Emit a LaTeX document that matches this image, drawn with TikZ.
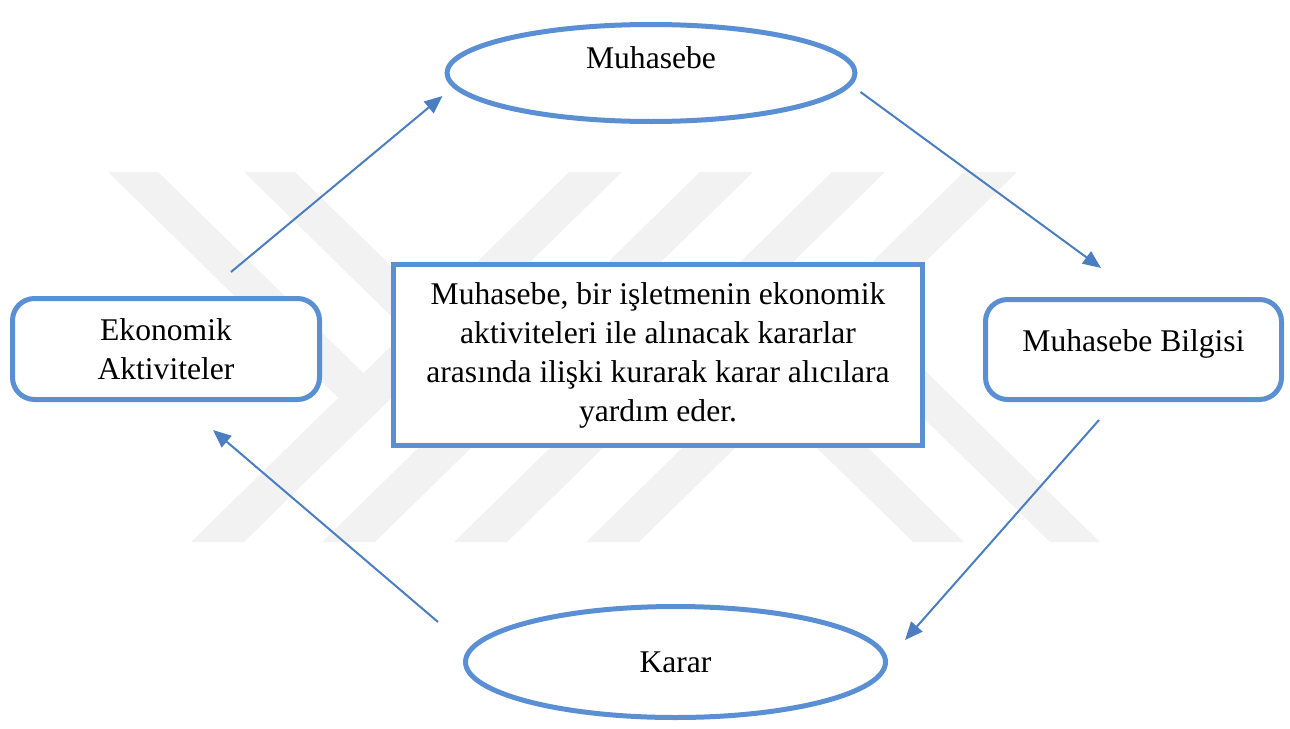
\documentclass[tikz,border=0pt]{standalone}
\usepackage{fontspec}
\setmainfont{Liberation Serif}
\usetikzlibrary{arrows.meta, shapes, positioning, calc}
\definecolor{boxblue}{HTML}{5A8FD4}
\definecolor{arrowblue}{HTML}{4A7EC1}

\begin{document}
\begin{tikzpicture}[x=0.5pt,y=-0.5pt,font=\fontsize{15.8}{19.5}\selectfont,>={Triangle[length=9pt,width=7.5pt]},line width=2.5pt]

	\tikzset{wm/.style={fill=black!5, draw=none},
		oval st/.style={ellipse, draw=boxblue, fill=white, inner sep=0pt},
		box st/.style={rectangle, rounded corners=11pt, draw=boxblue, fill=white, align=center, inner sep=0pt},
		note st/.style={rectangle, draw=boxblue, fill=white, align=center, inner sep=0pt},
		arr/.style={->, draw=arrowblue, fill=arrowblue, line width=1pt}}

	\useasboundingbox (0,0) rectangle (1290,728);

	% faint watermark in the back
	\fill[wm] (569,172) -- (622,172) -- (244,542) -- (191,542) -- cycle;
	\fill[wm] (700,172) -- (753,172) -- (375,542) -- (322,542) -- cycle;
	\fill[wm] (832,172) -- (885,172) -- (507,542) -- (454,542) -- cycle;
	\fill[wm] (964,172) -- (1017,172) -- (639,542) -- (586,542) -- cycle;
	\fill[wm] (108,172) -- (158,172) -- (390,399) -- (365,424) -- cycle;
	\fill[wm] (244,172) -- (295,172) -- (524,396) -- (498,421) -- cycle;
	\fill[wm] (1100,542) -- (1050,542) -- (818,315) -- (843,290) -- cycle;
	\fill[wm] (964,542) -- (913,542) -- (684,318) -- (710,293) -- cycle;

	\node[oval st, minimum width=204pt, minimum height=48.5pt] (M) at (651,73) {\raisebox{2.5pt}[0pt][0pt]{Muhasebe}};
	\node[box st, minimum width=148pt, minimum height=50pt] (B) at (1133.5,349.5) {\raisebox{-1pt}[0pt][0pt]{Muhasebe Bilgisi}};
	\node[oval st, minimum width=210pt, minimum height=55.5pt] (K) at (675.5,662) {Karar};
	\node[box st, minimum width=153.5pt, minimum height=50.5pt] (E) at (166,349) {Ekonomik\\Aktiviteler};
	\node[note st, minimum width=264.5pt, minimum height=90.5pt] (C) at (658,355)
		{Muhasebe, bir işletmenin ekonomik\\aktiviteleri ile alınacak kararlar\\arasında ilişki kurarak karar alıcılara\\yardım eder.};

	\path
	($(E.north)+(65,-24)$) edge[arr] ($(M.west)+(-2,23)$)
	($(M.east)+(3,19)$) edge[arr] ($(B.north)+(-32.5,-29)$)
	($(B.south)+(-34.5,18)$) edge[arr] ($(K.east)+(17,-22)$)
	($(K.west)+(-25,-40)$) edge[arr] ($(E.south)+(47,28)$);

\end{tikzpicture}
\end{document}
